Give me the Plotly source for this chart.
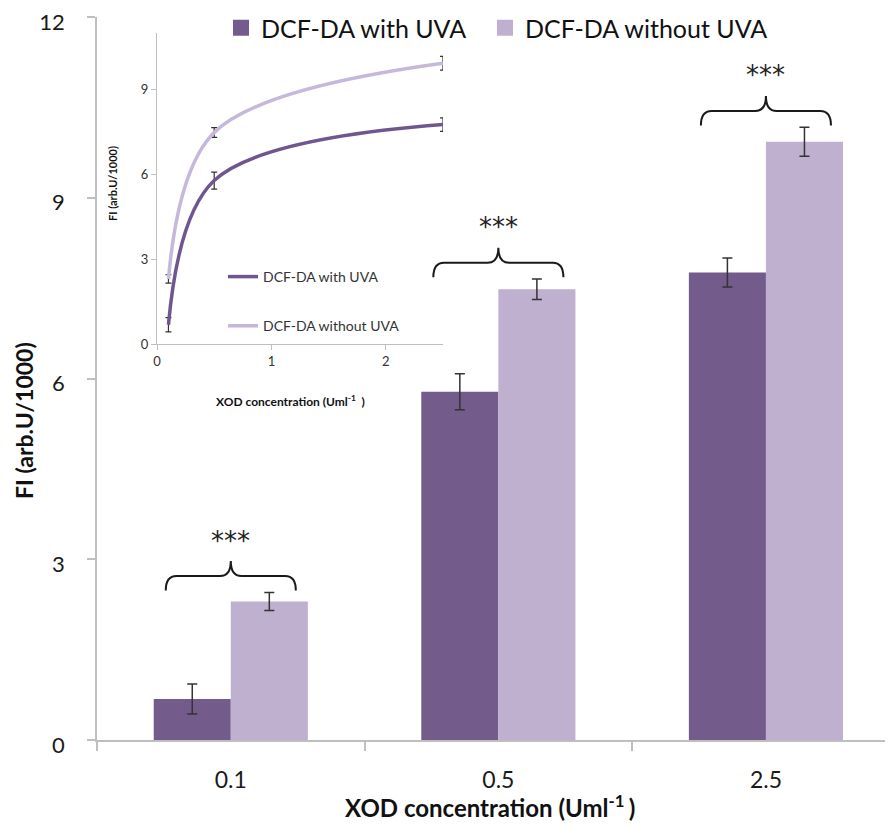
import plotly.graph_objects as go

categories = ["0.1", "0.5", "2.5"]
conc = [0.1, 0.5, 2.5]
with_uva = [0.68, 5.78, 7.76]
with_uva_err = [0.25, 0.30, 0.24]
without_uva = [2.30, 7.48, 9.93]
without_uva_err = [0.15, 0.17, 0.24]
series_names = ["DCF-DA with UVA", "DCF-DA without UVA"]
stars = ["***", "***", "***"]

DARK = "#735B8C"
LIGHT = "#BFB0CF"
DARK_L = "#6F5690"
LIGHT_L = "#C6B8D9"
AX = "#BFBFBF"
FONT = "Lato"

xpos = list(range(len(categories)))

fig = go.Figure()

err_style = dict(type="data", visible=True, color="#333333", thickness=1.5, width=5)

fig.add_trace(go.Bar(x=xpos, y=with_uva, name=series_names[0], marker=dict(color=DARK, line=dict(width=0)),
                     error_y=dict(array=with_uva_err, **err_style), showlegend=False))
fig.add_trace(go.Bar(x=xpos, y=without_uva, name=series_names[1], marker=dict(color=LIGHT, line=dict(width=0)),
                     error_y=dict(array=without_uva_err, **err_style), showlegend=False))

# legend entries (square swatches), each in its own legend box for exact spacing
for nm, col, lg in zip(series_names, [DARK, LIGHT], ["legend", "legend3"]):
    fig.add_trace(go.Scatter(x=[None], y=[None], mode="markers", name=nm,
                             marker=dict(symbol="square", size=16, color=col), legend=lg))

# inset curves
ierr = dict(type="data", visible=True, color="#333333", thickness=1.2, width=3)
fig.add_trace(go.Scatter(x=conc, y=with_uva, mode="lines", name=series_names[0], xaxis="x2", yaxis="y2",
                         line=dict(color=DARK_L, width=3.5, shape="spline", smoothing=1.0),
                         error_y=dict(array=with_uva_err, **ierr), legend="legend2", legendgroup="a"))
fig.add_trace(go.Scatter(x=conc, y=without_uva, mode="lines", name=series_names[1], xaxis="x2", yaxis="y2",
                         line=dict(color=LIGHT_L, width=3.5, shape="spline", smoothing=1.0),
                         error_y=dict(array=without_uva_err, **ierr), legend="legend2", legendgroup="b"))

# braces and stars
shapes = []
annotations = []
half = 0.243
r = 0.04
for i, s in enumerate(stars):
    top = max(with_uva[i] + with_uva_err[i], without_uva[i] + without_uva_err[i])
    ye, yh, yt = top + 0.03, top + 0.27, top + 0.52
    x0, x1, xc = i - half, i + half, i
    path = (f"M {x0},{ye} Q {x0},{yh} {x0 + r},{yh} L {xc - r},{yh} Q {xc},{yh} {xc},{yt} "
            f"Q {xc},{yh} {xc + r},{yh} L {x1 - r},{yh} Q {x1},{yh} {x1},{ye}")
    shapes.append(dict(type="path", path=path, xref="x", yref="y", line=dict(color="#1a1a1a", width=2)))
    annotations.append(dict(x=xc, y=top + 0.86, xref="x", yref="y", text=s, showarrow=False,
                            font=dict(family="DejaVu Sans", size=26, color="#222222"), yanchor="middle"))

annotations.append(dict(text="FI (arb.U/1000)", textangle=-90, x=(24 - 97) / 788, y=(740 - 421) / 723,
                        xref="paper", yref="paper", xanchor="center", yanchor="middle", showarrow=False,
                        font=dict(family=FONT, size=23, color="#111111", weight="bold")))
annotations.append(dict(text="XOD concentration (Uml<sup>-1 </sup>)", x=(490 - 97) / 788, y=(740 - 806) / 723,
                        xref="paper", yref="paper", xanchor="center", yanchor="middle", showarrow=False,
                        font=dict(family=FONT, size=24, color="#111111", weight="bold")))
annotations.append(dict(text="FI (arb.U/1000)", textangle=-90, x=(113 - 97) / 788, y=(740 - 184) / 723,
                        xref="paper", yref="paper", xanchor="center", yanchor="middle", showarrow=False,
                        font=dict(family=FONT, size=11, color="#111111", weight="bold")))
annotations.append(dict(text="XOD concentration (Uml<sup>-1</sup>  )", x=(290 - 97) / 788, y=(740 - 401) / 723,
                        xref="paper", yref="paper", xanchor="center", yanchor="middle", showarrow=False,
                        font=dict(family=FONT, size=12, color="#111111", weight="bold")))

# the page body adds an 8px offset, so the figure is 8px smaller and margins are shifted
fig.update_layout(
    width=885, height=819,
    margin=dict(l=89, r=8, t=9, b=87, autoexpand=False),
    paper_bgcolor="white", plot_bgcolor="rgba(0,0,0,0)",
    font=dict(family=FONT, color="#111111"),
    barmode="group", bargap=0.424, bargroupgap=0,
    shapes=shapes, annotations=annotations,
    xaxis=dict(range=[-0.5, 2.445], tickvals=xpos, ticktext=categories, ticks="",
               showline=True, linecolor=AX, linewidth=1.5, showgrid=False, zeroline=False,
               tickfont=dict(family=FONT, size=23, color="#1a1a1a"), ticklabelstandoff=19,
               ticklabeloverflow="allow",
               minor=dict(tickvals=[-0.5, 0.5, 1.5], ticks="outside", ticklen=9, tickcolor=AX, tickwidth=1.5,
                          showgrid=False)),
    yaxis=dict(range=[0, 12], tickvals=[0, 3, 6, 9, 12], ticks="outside", ticklen=8, tickcolor=AX, tickwidth=1.5,
               showline=True, linecolor=AX, linewidth=1.5, showgrid=False, zeroline=False,
               tickfont=dict(family=FONT, size=22, color="#1a1a1a"), ticklabelstandoff=18,
               ticklabelshift=5, ticklabeloverflow="allow"),
    xaxis2=dict(domain=[(157 - 97) / 788, (443 - 97) / 788], anchor="y2", range=[0, 2.5],
                tickvals=[0, 1, 2], ticks="outside", ticklen=5, tickcolor=AX, showline=True, linecolor=AX,
                linewidth=1.2, showgrid=False, zeroline=False,
                tickfont=dict(family=FONT, size=13, color="#333333")),
    yaxis2=dict(domain=[(740 - 344) / 723, (740 - 33) / 723], anchor="x2", range=[0, 11],
                tickvals=[0, 3, 6, 9], ticks="outside", ticklen=5, tickcolor=AX, showline=True, linecolor=AX,
                linewidth=1.2, showgrid=False, zeroline=False,
                tickfont=dict(family=FONT, size=13, color="#333333")),
    legend=dict(orientation="h", x=(221 - 97) / 788, y=(740 - 28) / 723, xanchor="left", yanchor="middle",
                font=dict(family=FONT, size=25, color="#111111"), bgcolor="rgba(0,0,0,0)"),
    legend3=dict(orientation="h", x=(485 - 97) / 788, y=(740 - 28) / 723, xanchor="left", yanchor="middle",
                 font=dict(family=FONT, size=25, color="#111111"), bgcolor="rgba(0,0,0,0)"),
    legend2=dict(x=(223 - 97) / 788, y=(740 - 261) / 723, xanchor="left", yanchor="top",
                 font=dict(family=FONT, size=14, color="#333333"), bgcolor="rgba(0,0,0,0)",
                 traceorder="grouped", tracegroupgap=28),
)

fig.write_html("out.html")
